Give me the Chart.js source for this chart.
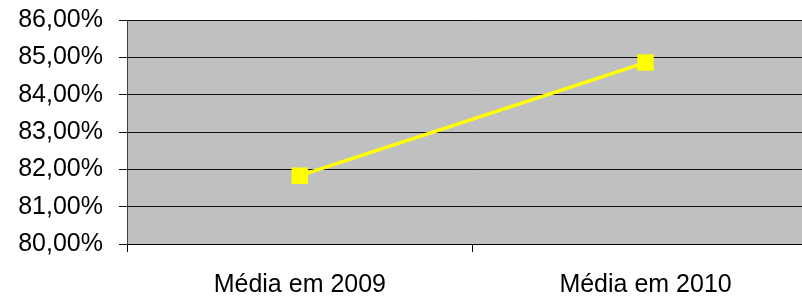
<!DOCTYPE html>
<html>
<head>
<meta charset="utf-8">
<script src="https://cdn.jsdelivr.net/npm/chart.js@4/dist/chart.umd.min.js"></script>
<style>
  html, body { margin: 0; padding: 0; background: #fff; overflow: hidden; }
  #wrap { width: 830px; height: 310px; margin-top: -11px; }
</style>
</head>
<body>
<div id="wrap"><canvas id="chart"></canvas></div>
<script>
// ── Data ─────────────────────────────────────────────────────────────────────
const categories = ['Média em 2009', 'Média em 2010'];
const values     = [81.83, 84.86];
const yTicks     = [80, 81, 82, 83, 84, 85, 86];

// gray plot background
const plotBg = {
  id: 'plotBg',
  beforeDraw(chart) {
    const { ctx, chartArea: a } = chart;
    ctx.save();
    ctx.fillStyle = '#C0C0C0';
    ctx.fillRect(a.left, a.top, a.right - a.left, a.bottom - a.top);
    ctx.restore();
  }
};

const fmt = v => v.toFixed(2).replace('.', ',') + '%';
const font = { family: 'Liberation Sans, Arial', size: 25 };

new Chart(document.getElementById('chart'), {
  type: 'line',
  data: {
    labels: categories,
    datasets: [{
      data: values,
      borderColor: '#FFFF00',
      backgroundColor: '#FFFF00',
      borderWidth: 3.5,
      pointStyle: 'rect',
      pointRadius: 11.6,
      pointBorderWidth: 0,
      tension: 0,
    }]
  },
  options: {
    responsive: true,
    maintainAspectRatio: false,
    animation: false,
    layout: { padding: 0 },
    plugins: { legend: { display: false }, tooltip: { enabled: false } },
    scales: {
      x: {
        offset: true,
        grid: { offset: true, drawOnChartArea: false, color: '#000', tickLength: 8 },
        border: { color: '#000', width: 1 },
        ticks: { color: '#000', font, padding: 18, maxRotation: 0 },
        afterFit: s => { s.height = 55; }
      },
      y: {
        min: 80, max: 86,
        afterBuildTicks: s => { s.ticks = yTicks.map(v => ({ value: v })); },
        grid: { color: '#111', tickLength: 8 },
        border: { color: '#444', width: 1 },
        ticks: { color: '#000', font, padding: 16, callback: fmt },
        afterFit: s => { s.width = 127; }
      }
    }
  },
  plugins: [plotBg]
});
</script>
</body>
</html>
